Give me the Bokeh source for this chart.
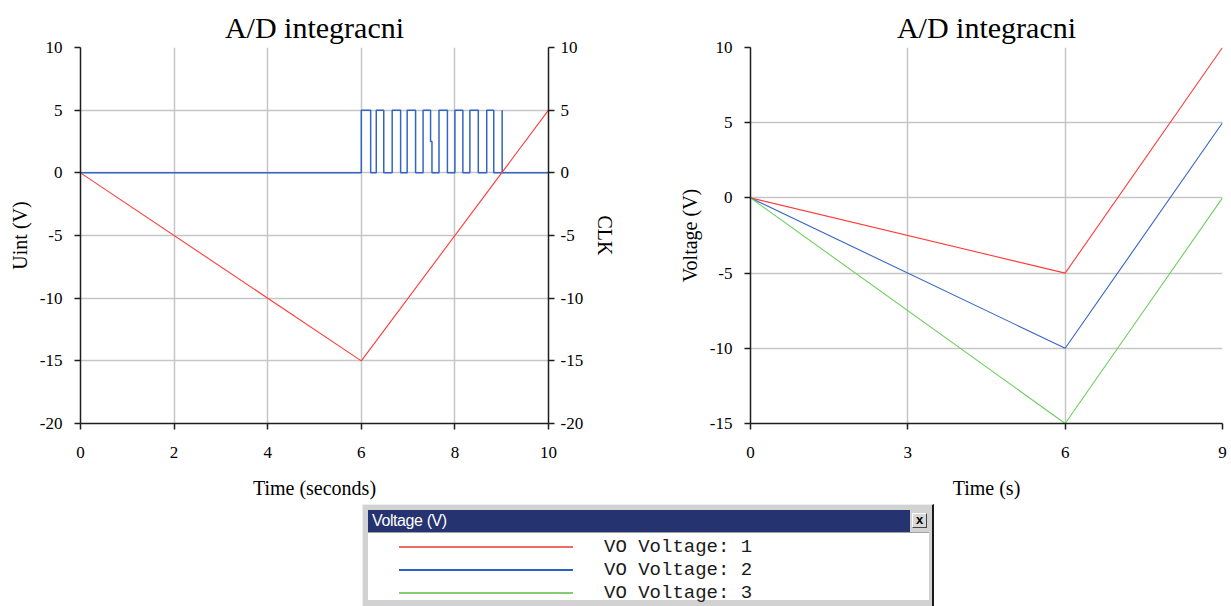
from bokeh.plotting import figure
from bokeh.models import LinearAxis, Range1d, Div, Spacer
from bokeh.layouts import column, row
from bokeh.embed import file_html
from bokeh.resources import INLINE

# ---------------- data ----------------
# left chart: integrator output
uint_t = [0, 6, 10]
uint_v = [0, -15, 5]
# clock pulses (rising / falling edge times, seconds)
clk_rise = [6.00, 6.32, 6.66, 6.98, 7.32, 7.66, 8.00, 8.32, 8.68]
clk_fall = [6.20, 6.48, 6.84, 7.16, 7.48, 7.84, 8.17, 8.50, 8.83]
clk_glitch_pulse = 4          # pulse whose falling edge has a step
clk_glitch_level = 2.5
clk_glitch_end = 7.51
clk_spike_t = 9.01            # final zero-width spike
clk_high = 5
clk_low = 0
clk_end = 10

# right chart: three voltages
v_t = [0, 6, 9]
v1 = [0, -5, 10]
v2 = [0, -10, 5]
v3 = [0, -15, 0]

left_xticks = [0, 2, 4, 6, 8, 10]
left_yticks = [-20, -15, -10, -5, 0, 5, 10]
right_xticks = [0, 3, 6, 9]
right_yticks = [-15, -10, -5, 0, 5, 10]

legend_labels = ["VO Voltage: 1", "VO Voltage: 2", "VO Voltage: 3"]

# build the step polyline of the clock from the edge lists
clk_t = [0]
clk_v = [clk_low]
for i, (r, f) in enumerate(zip(clk_rise, clk_fall)):
    clk_t += [r, r, f]
    clk_v += [clk_low, clk_high, clk_high]
    if i == clk_glitch_pulse:
        clk_t += [f, clk_glitch_end, clk_glitch_end]
        clk_v += [clk_glitch_level, clk_glitch_level, clk_low]
    else:
        clk_t += [f]
        clk_v += [clk_low]
clk_t += [clk_spike_t, clk_spike_t, clk_spike_t, clk_end]
clk_v += [clk_low, clk_high, clk_low, clk_low]

SERIF = "Liberation Serif"
RED = "#ff3b3b"
BLUE = "#3565c4"
GREEN = "#6fcf5e"
AXIS = "#1e1e1e"
GRID = "#c6c6c6"
H = 524


def style_axis(ax, ms, als, ticks):
    ax.axis_line_color = AXIS
    ax.axis_line_width = 1.5
    ax.major_tick_line_color = AXIS
    ax.major_tick_line_width = 1.5
    ax.major_tick_out = 6
    ax.major_tick_in = 0
    ax.minor_tick_line_color = None
    ax.major_label_text_font = SERIF
    ax.major_label_text_font_size = "17px"
    ax.major_label_text_color = "#000000"
    ax.axis_label_text_font = SERIF
    ax.axis_label_text_font_size = "20px"
    ax.axis_label_text_font_style = "normal"
    ax.axis_label_text_color = "#000000"
    ax.major_label_standoff = ms
    ax.axis_label_standoff = als
    # plain hyphen-minus labels, as in the original
    ax.major_label_overrides = {t: str(t) for t in ticks}


def style(p, xticks, yticks, xlabel, ylabel):
    p.title.text_font = SERIF
    p.title.text_font_size = "30px"
    p.title.text_font_style = "normal"
    p.title.align = "center"
    p.title.text_color = "#000000"
    p.title.standoff = 7
    p.outline_line_color = None
    p.xaxis.ticker = xticks
    p.yaxis.ticker = yticks
    p.xaxis.axis_label = xlabel
    p.yaxis.axis_label = ylabel
    for ax in p.xaxis:
        style_axis(ax, 17, 16, xticks)
    for ax in p.yaxis:
        style_axis(ax, 12, 6, yticks)
    p.grid.grid_line_color = GRID
    p.grid.grid_line_width = 1.5
    p.background_fill_color = "white"
    p.border_fill_color = "white"


# ---------------- left chart ----------------
p1 = figure(width=642, height=H, x_range=Range1d(0, 10), y_range=Range1d(-20, 10),
            output_backend="svg", toolbar_location=None, title="A/D integracni",
            min_border_left=80, min_border_right=94, min_border_top=47,
            min_border_bottom=H - 423)
p1.extra_y_ranges = {"clk": Range1d(-20, 10)}
style(p1, left_xticks, left_yticks, "Time (seconds)", "Uint (V)")
rax = LinearAxis(y_range_name="clk", axis_label="CLK", ticker=left_yticks)
style_axis(rax, 6, 8, left_yticks)
p1.add_layout(rax, "right")

p1.line(clk_t, clk_v, line_color=BLUE, line_width=1.5, y_range_name="clk")
p1.line(uint_t, uint_v, line_color=RED, line_width=1.1)

# ---------------- right chart ----------------
p2 = figure(width=586, height=H, x_range=Range1d(0, 9), y_range=Range1d(-15, 10),
            output_backend="svg", toolbar_location=None, title="A/D integracni",
            min_border_left=108, min_border_right=6, min_border_top=47,
            min_border_bottom=H - 423)
style(p2, right_xticks, right_yticks, "Time (s)", "Voltage (V)")
p2.line(v_t, v1, line_color=RED, line_width=1.1)
p2.line(v_t, v2, line_color=BLUE, line_width=1.1)
p2.line(v_t, v3, line_color=GREEN, line_width=1.1)

# ---------------- legend window ----------------
leg_colors = ["#f06a6a", "#2d5fc4", "#86cc74"]
rows_html = ""
for i, (lab, col) in enumerate(zip(legend_labels, leg_colors)):
    top = 42 + 23 * i
    rows_html += (
        f'<div style="position:absolute;left:36px;top:{top - 1}px;width:174px;height:0;'
        f'border-top:2px solid {col};"></div>'
        f'<div style="position:absolute;left:241px;top:{top - 12}px;height:24px;line-height:24px;'
        f'font-family:\'Liberation Mono\',monospace;font-size:19px;color:#1a1a1a;white-space:pre;">{lab}</div>'
    )
legend_html = (
    '<div style="position:relative;top:-20px;box-sizing:border-box;width:572px;height:102px;'
    'background:#d2d2d2;border-top:1px solid #eeeeee;border-left:1px solid #eeeeee;'
    'border-right:2px solid #1a1a1a;">'
    '<div style="position:absolute;left:5px;top:5px;width:542px;height:22px;background:#253371;"></div>'
    '<div style="position:absolute;left:9px;top:5px;height:22px;line-height:22px;color:#ffffff;'
    'font-family:\'Liberation Sans\',sans-serif;font-size:16px;letter-spacing:-0.4px;">Voltage (V)</div>'
    '<div style="position:absolute;left:549px;top:8px;width:15px;height:15px;box-sizing:border-box;'
    'background:#d8d8d8;border:1px solid #444;border-top-color:#fff;border-left-color:#fff;'
    'font-family:\'Liberation Sans\',sans-serif;'
    'font-size:13px;font-weight:bold;line-height:12px;text-align:center;color:#000;">x</div>'
    '<div style="position:absolute;left:5px;top:27px;width:561px;height:68px;background:#ffffff;'
    'border-top:1px solid #a0a0a0;"></div>'
    + rows_html +
    '</div>'
)
legend = Div(text=legend_html, width=572, height=606 - H, margin=0)

layout = column(row(p1, p2), row(Spacer(width=362, height=606 - H, margin=0), legend))

open("out.html", "w").write(file_html(layout, INLINE))
